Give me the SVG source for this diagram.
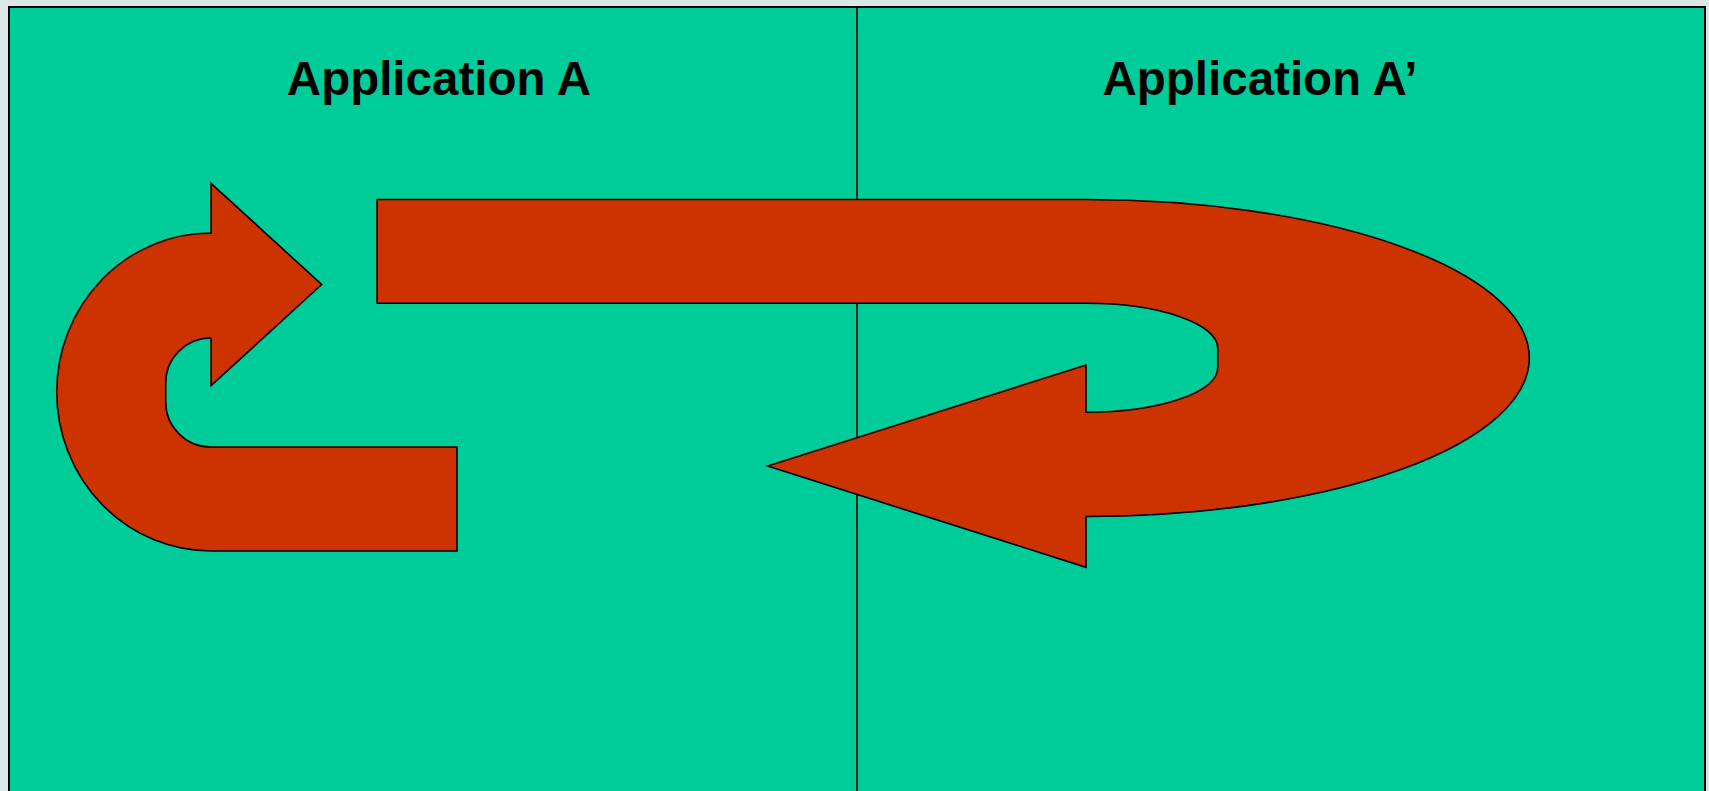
<svg xmlns="http://www.w3.org/2000/svg" width="1709" height="791" viewBox="0 0 1709 791">
<style>
.panel{fill:#00CC99;stroke:#000;stroke-width:2}
.arrow{fill:#CC3300;stroke:#000;stroke-width:1.6;stroke-linejoin:miter}
.title{font-family:"Liberation Sans",Arial,sans-serif;font-weight:bold;font-size:47.5px;fill:#000;text-anchor:middle}
</style>
<rect x="0" y="0" width="1709" height="791" fill="#dce8e8"/>
<g id="panel">
<rect class="panel" x="9" y="7" width="1696" height="790"/>
<line x1="857" y1="7" x2="857" y2="791" stroke="#000" stroke-width="1.6"/>
</g>
<g id="label-a"><text class="title" x="439" y="95">Application A</text></g>
<g id="label-a-prime"><text class="title" x="1260" y="95">Application A’</text></g>
<g id="connectors">
<path id="loop-arrow" class="arrow" d="M321.7 284.5 L211 385.7 L211 338 A45.3 45 0 0 0 165.7 383 L165.7 402 A45.3 45 0 0 0 211 447 L457 447 L457 551 L211 551 A154.3 159 0 0 1 56.7 392 A154.3 159 0 0 1 211 233 L211 183.3 Z"/>
<path id="u-arrow" class="arrow" d="M377 199.5 L1086 199.5 A443.3 158.5 0 0 1 1529.3 358 A443.3 158.5 0 0 1 1086 516.5 L1086 567.3 L767.7 466 L1086 365 L1086 412.3 A131.7 44.3 0 0 0 1217.7 368 L1217.7 348 A131.7 44.7 0 0 0 1086 303.3 L377 303.3 Z"/>
</g>
</svg>
